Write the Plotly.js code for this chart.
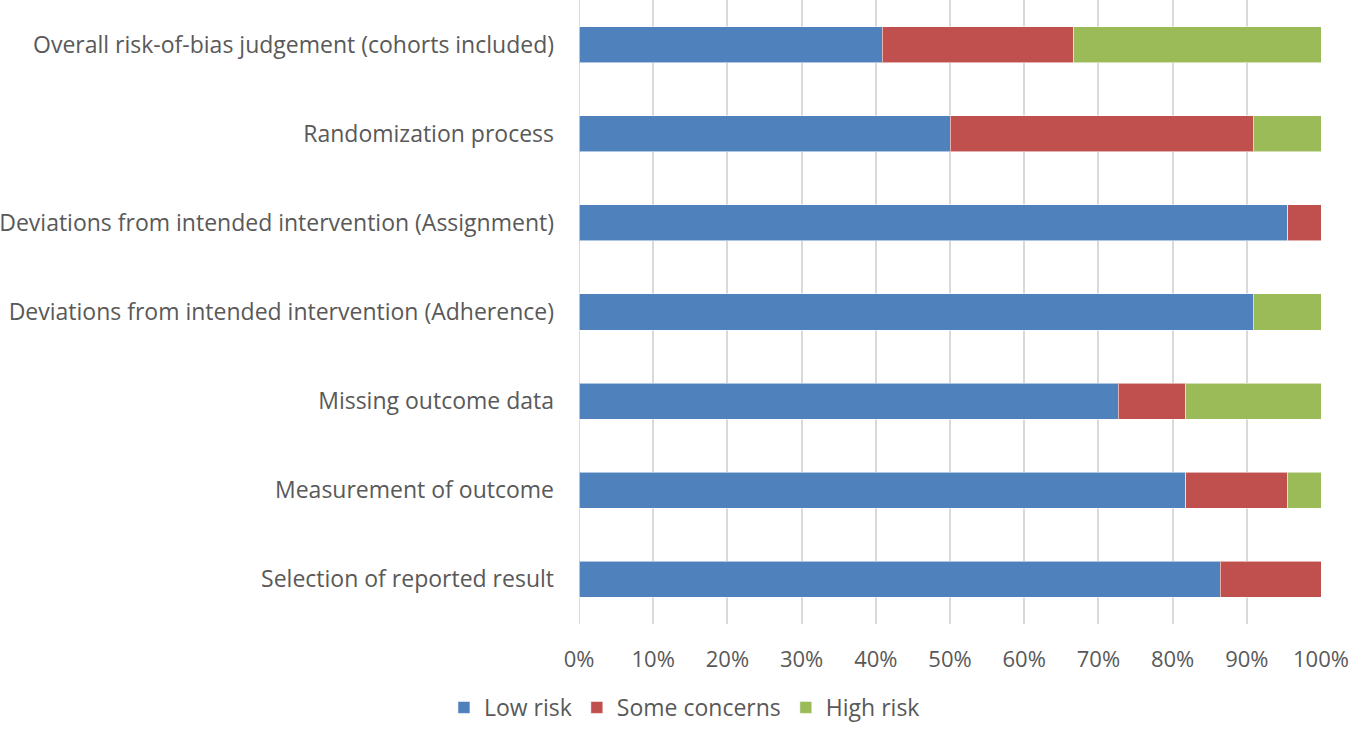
<!DOCTYPE html>
<html>
<head>
<meta charset="utf-8">
<script src="https://cdn.plot.ly/plotly-3.0.1.min.js"></script>
<style>html,body{margin:0;padding:0;background:#fff;}#chart{width:1350px;height:729px;}</style>
</head>
<body>
<div id="chart"></div>
<script>
const categories = [
  "Overall risk-of-bias judgement (cohorts included)",
  "Randomization process",
  "Deviations from intended intervention (Assignment)",
  "Deviations from intended intervention (Adherence)",
  "Missing outcome data",
  "Measurement of outcome",
  "Selection of reported result"
];
const lowRisk = [40.9, 50.0, 95.5, 90.9, 72.7, 81.8, 86.4];
const someConcerns = [25.8, 40.9, 4.5, 0, 9.1, 13.7, 13.6];
const highRisk = [33.3, 9.1, 0, 9.1, 18.2, 4.5, 0];
const tickVals = [0,10,20,30,40,50,60,70,80,90,100];
const tickText = ["0%","10%","20%","30%","40%","50%","60%","70%","80%","90%","100%"];

const fnt = {family: "Open Sans, sans-serif", size: 23, color: "#595959"};
const tfnt = {family: "Open Sans, sans-serif", size: 22, color: "#595959"};
const mk = (name, vals, color) => ({
  type: "bar", orientation: "h", name: name, x: vals, y: categories,
  marker: {color: color, line: {color: "rgba(255,255,255,0.55)", width: 1}},
  hoverinfo: "x+name"
});
const data = [
  mk("Low risk", lowRisk, "#4F81BD"),
  mk("Some concerns", someConcerns, "#C0504D"),
  mk("High risk", highRisk, "#9BBB59")
];
const layout = {
  width: 1350, height: 729,
  barmode: "stack", bargap: 0.595,
  margin: {l: 579, r: 29, t: 0, b: 105, pad: 0},
  paper_bgcolor: "#fff", plot_bgcolor: "#fff",
  font: fnt,
  xaxis: {
    range: [0, 100], tickvals: tickVals, ticktext: tickText,
    showgrid: true, gridcolor: "#D9D9D9", gridwidth: 2,
    zeroline: false, showline: false, ticks: "", ticklabelstandoff: 20,
    tickfont: tfnt, fixedrange: true, automargin: false
  },
  yaxis: {
    type: "category", autorange: "reversed", showgrid: false, zeroline: false,
    showline: false, ticks: "", ticklabelstandoff: 24, tickfont: fnt, automargin: false
  },
  showlegend: true,
  legend: {
    orientation: "h", xref: "container", yref: "container",
    x: 0.507, xanchor: "center", y: -0.011, yanchor: "bottom",
    font: fnt, traceorder: "normal", itemwidth: 30
  },
  shapes: [{type: "line", xref: "x", yref: "paper", x0: 0, x1: 0, y0: 0, y1: 1,
            line: {color: "#D9D9D9", width: 2}, layer: "below"}]
};
Plotly.newPlot("chart", data, layout, {displayModeBar: false, staticPlot: true});
</script>
</body>
</html>
